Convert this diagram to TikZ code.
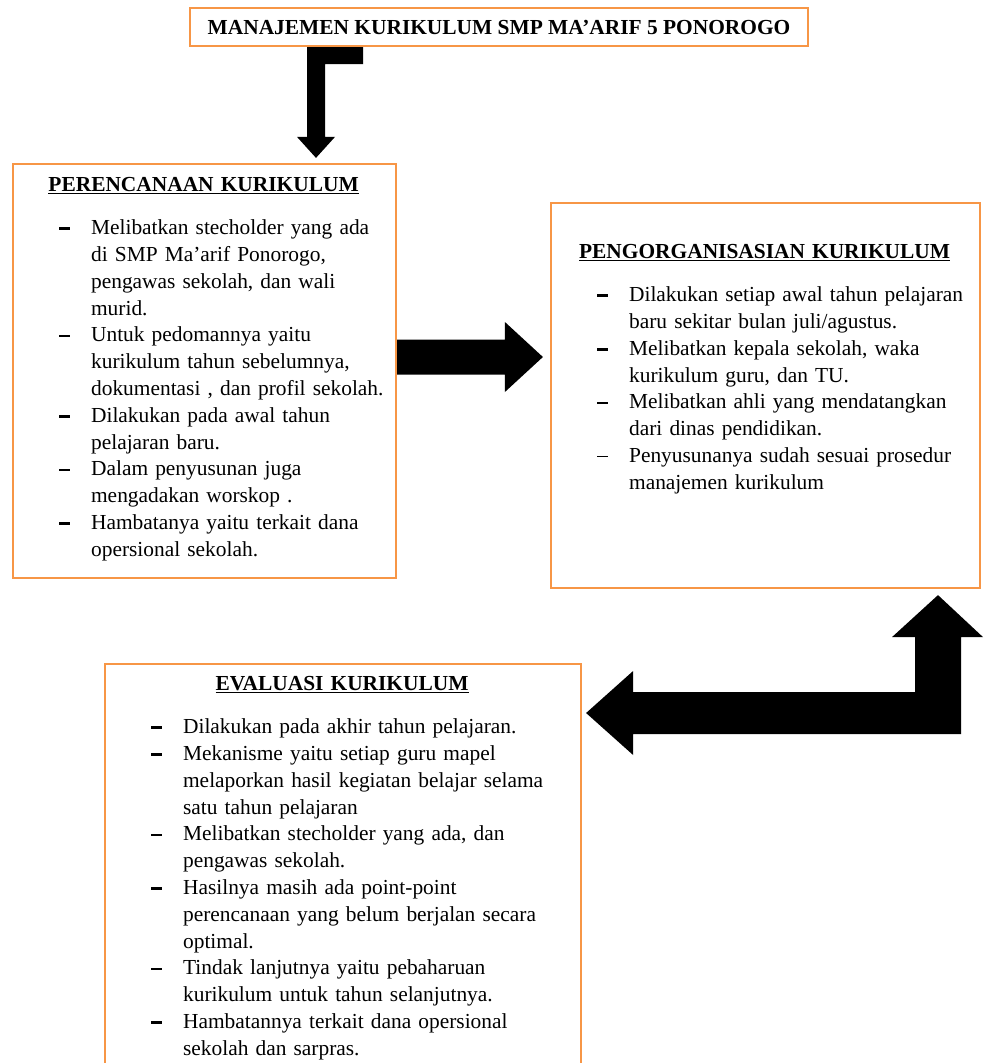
\documentclass[tikz,border=0pt]{standalone}
\usepackage{fontspec}
\setmainfont{Liberation Serif}
\usetikzlibrary{calc}

\definecolor{orangeline}{RGB}{247,150,70}

\newcommand{\judul}[1]{{\centering\rule{0pt}{20pt}\bfseries\sbox0{#1}\rlap{\rule[-3pt]{\wd0}{1.6pt}}\usebox0\par}\vspace{16.7pt}\leftskip=79pt\rightskip=0pt plus 1fil\relax}
\newcommand{\butir}[1]{\noindent\llap{\makebox[32pt][l]{\rule[4.5pt]{11pt}{2.8pt}}}#1\par}
\newcommand{\butirtipis}[1]{\noindent\llap{\makebox[32pt][l]{\rule[5.5pt]{11pt}{1.1pt}}}#1\par}

\begin{document}
\begin{tikzpicture}
		[x=1pt,y=1pt,line join=miter,
		%Styles
		frame/.style={draw=orangeline,line width=2.2pt,inner sep=0pt},
		content/.style={anchor=north west,inner sep=0pt,align=left,font=\fontsize{21.4}{26.8}\selectfont},
		blockarrow/.style={fill=black}
		]
		
		\clip (0,0) rectangle (984,-1063);
		
		%The boxes
		\node[frame,minimum width=618pt,minimum height=38pt,font=\fontsize{21.4}{26.8}\selectfont\bfseries] (judul) at (499,-27) {MANAJEMEN KURIKULUM SMP MA’ARIF 5 PONOROGO};
		
		\node[frame,minimum width=383pt,minimum height=414pt] (perencanaan) at (204.5,-371) {};
		\node[content,text width=383pt] (perencanaan isi) at ([yshift=-8pt]perencanaan.north west) {\judul{PERENCANAAN KURIKULUM}
			\butir{Melibatkan stecholder yang ada\\di SMP Ma’arif Ponorogo,\\pengawas sekolah, dan wali\\murid.}
			\butir{Untuk pedomannya yaitu\\kurikulum tahun sebelumnya,\\dokumentasi , dan profil sekolah.}
			\butir{Dilakukan pada awal tahun\\pelajaran baru.}
			\butir{Dalam penyusunan juga\\mengadakan worskop .}
			\butir{Hambatanya yaitu terkait dana\\opersional sekolah.}};
		
		\node[frame,minimum width=429pt,minimum height=385pt] (pengorganisasian) at (765.5,-395.5) {};
		\node[content,text width=429pt] (pengorganisasian isi) at ([yshift=-36pt]pengorganisasian.north west) {\judul{PENGORGANISASIAN KURIKULUM}
			\butir{Dilakukan setiap awal tahun pelajaran\\baru sekitar bulan juli/agustus.}
			\butir{Melibatkan kepala sekolah, waka\\kurikulum guru, dan TU.}
			\butir{Melibatkan ahli yang mendatangkan\\dari dinas pendidikan.}
			\butirtipis{Penyusunanya sudah sesuai prosedur\\manajemen kurikulum}};
		
		\node[frame,minimum width=476pt,minimum height=440pt] (evaluasi) at (343,-884) {};
		\node[content,text width=476pt] (evaluasi isi) at ([yshift=-7pt]evaluasi.north west) {\judul{EVALUASI KURIKULUM}
			\butir{Dilakukan pada akhir tahun pelajaran.}
			\butir{Mekanisme yaitu setiap guru mapel\\melaporkan hasil kegiatan belajar selama\\satu tahun pelajaran}
			\butir{Melibatkan stecholder yang ada, dan\\pengawas sekolah.}
			\butir{Hasilnya masih ada point-point\\perencanaan yang belum berjalan secara\\optimal.}
			\butir{Tindak lanjutnya yaitu pebaharuan\\kurikulum untuk tahun selanjutnya.}
			\butir{Hambatannya terkait dana opersional\\sekolah dan sarpras.}};
		
		%The arrows
		\coordinate (t0) at (judul.south -| 316,0);
		\coordinate (t1) at ([yshift=5pt]perencanaan.north -| t0);
		\fill[blockarrow] ([xshift=-9pt]t0) -- ([xshift=47pt]t0) -- ([shift={(47pt,-17pt)}]t0) -- ([shift={(9pt,-17pt)}]t0)
			-- ([shift={(9pt,21pt)}]t1) -- ([shift={(19pt,21pt)}]t1) -- (t1) -- ([shift={(-19pt,21pt)}]t1) -- ([shift={(-9pt,21pt)}]t1) -- cycle;
		
		\coordinate (r0) at (perencanaan.east |- 0,-357);
		\coordinate (r1) at ([xshift=-7pt]pengorganisasian.west |- r0);
		\fill[blockarrow] ([yshift=17.5pt]r0) -- ([shift={(-38pt,17.5pt)}]r1) -- ([shift={(-38pt,35pt)}]r1) -- (r1)
			-- ([shift={(-38pt,-35pt)}]r1) -- ([shift={(-38pt,-17.5pt)}]r1) -- ([yshift=-17.5pt]r0) -- cycle;
		
		\coordinate (b1) at ([yshift=-6pt]pengorganisasian.south -| 938,0);
		\coordinate (b2) at ([xshift=4pt]evaluasi.east |- 0,-713);
		\coordinate (bc) at (b1 |- b2);
		\fill[blockarrow] (b2) -- ([shift={(47pt,42pt)}]b2) -- ([shift={(47pt,21pt)}]b2) -- ([shift={(-23pt,21pt)}]bc)
			-- ([shift={(-23pt,-42pt)}]b1) -- ([shift={(-46pt,-42pt)}]b1) -- (b1) -- ([shift={(45pt,-42pt)}]b1)
			-- ([shift={(23pt,-42pt)}]b1) -- ([shift={(23pt,-21pt)}]bc) -- ([shift={(47pt,-21pt)}]b2) -- ([shift={(47pt,-42pt)}]b2) -- cycle;
\end{tikzpicture}
\end{document}
